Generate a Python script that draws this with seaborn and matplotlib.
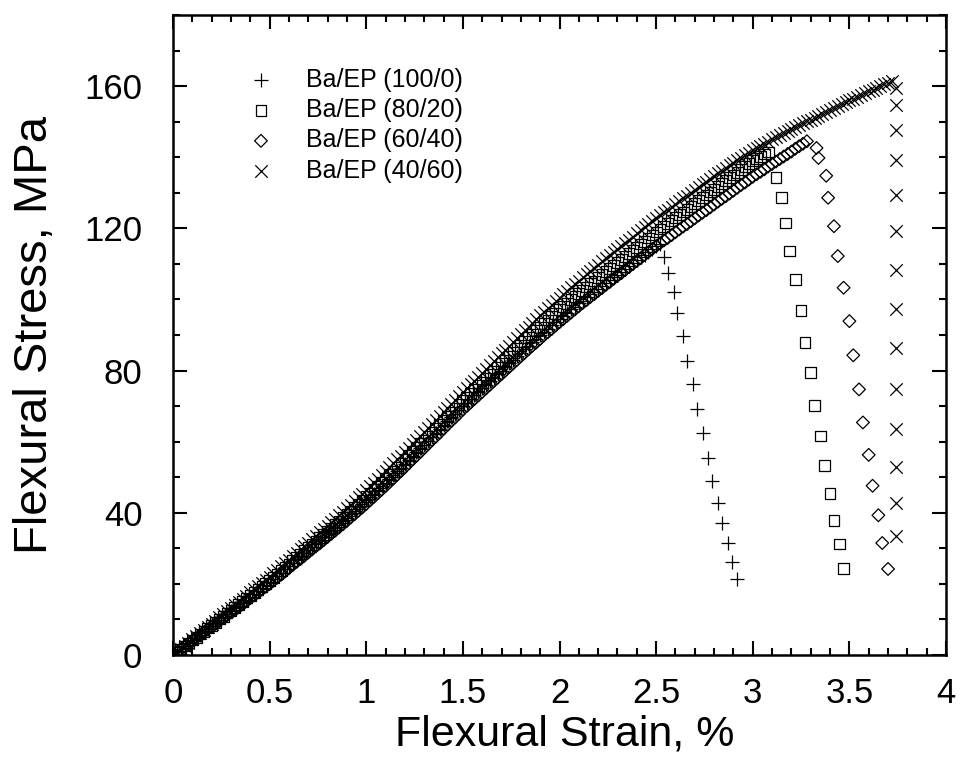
import matplotlib
matplotlib.use("Agg")
import matplotlib.pyplot as plt
from matplotlib.ticker import MultipleLocator, FuncFormatter
import seaborn as sns

# ---------------- DATA ----------------

# strain grid of the loading part, %
strain_load = [0.00, 0.02, 0.04, 0.06, 0.08, 0.10, 0.12, 0.14, 0.16, 0.18,
               0.20, 0.22, 0.24, 0.26, 0.28, 0.30, 0.32, 0.34, 0.36, 0.38,
               0.40, 0.42, 0.44, 0.46, 0.48, 0.50, 0.52, 0.54, 0.56, 0.58,
               0.60, 0.62, 0.64, 0.66, 0.68, 0.70, 0.72, 0.74, 0.76, 0.78,
               0.80, 0.82, 0.84, 0.86, 0.88, 0.90, 0.92, 0.94, 0.96, 0.98,
               1.00, 1.02, 1.04, 1.06, 1.08, 1.10, 1.12, 1.14, 1.16, 1.18,
               1.20, 1.22, 1.24, 1.26, 1.28, 1.30, 1.32, 1.34, 1.36, 1.38,
               1.40, 1.42, 1.44, 1.46, 1.48, 1.50, 1.52, 1.54, 1.56, 1.58,
               1.60, 1.62, 1.64, 1.66, 1.68, 1.70, 1.72, 1.74, 1.76, 1.78,
               1.80, 1.82, 1.84, 1.86, 1.88, 1.90, 1.92, 1.94, 1.96, 1.98,
               2.00, 2.02, 2.04, 2.06, 2.08, 2.10, 2.12, 2.14, 2.16, 2.18,
               2.20, 2.22, 2.24, 2.26, 2.28, 2.30, 2.32, 2.34, 2.36, 2.38,
               2.40, 2.42, 2.44, 2.46, 2.48, 2.50, 2.52, 2.54, 2.56, 2.58,
               2.60, 2.62, 2.64, 2.66, 2.68, 2.70, 2.72, 2.74, 2.76, 2.78,
               2.80, 2.82, 2.84, 2.86, 2.88, 2.90, 2.92, 2.94, 2.96, 2.98,
               3.00, 3.02, 3.04, 3.06, 3.08, 3.10, 3.12, 3.14, 3.16, 3.18,
               3.20, 3.22, 3.24, 3.26, 3.28, 3.30, 3.32, 3.34, 3.36, 3.38,
               3.40, 3.42, 3.44, 3.46, 3.48, 3.50, 3.52, 3.54, 3.56, 3.58,
               3.60, 3.62, 3.64, 3.66, 3.68, 3.70, 3.72]

# Ba/EP (100/0)
stress_100_load = [0.0, 0.8, 1.6, 2.5, 3.3, 4.1, 4.9, 5.7, 6.6, 7.4,
                   8.2, 9.0, 9.8, 10.7, 11.5, 12.3, 13.1, 13.9, 14.8, 15.6,
                   16.4, 17.2, 18.0, 18.9, 19.7, 20.5, 21.4, 22.3, 23.2, 24.1,
                   25.0, 25.9, 26.8, 27.7, 28.6, 29.5, 30.4, 31.3, 32.2, 33.1,
                   34.0, 34.9, 35.8, 36.7, 37.7, 38.6, 39.6, 40.5, 41.5, 42.5,
                   43.5, 44.4, 45.4, 46.5, 47.5, 48.5, 49.6, 50.6, 51.7, 52.7,
                   53.8, 54.9, 56.0, 57.0, 58.1, 59.2, 60.3, 61.4, 62.4, 63.5,
                   64.6, 65.7, 66.8, 67.8, 68.9, 70.0, 71.0, 72.0, 73.0, 74.0,
                   75.0, 76.0, 77.0, 78.0, 79.0, 80.0, 81.0, 82.0, 83.0, 84.0,
                   85.0, 86.0, 87.0, 88.0, 88.9, 89.9, 90.8, 91.8, 92.7, 93.6,
                   94.5, 95.4, 96.3, 97.2, 98.0, 98.9, 99.7, 100.6, 101.4, 102.2,
                   103.0, 103.8, 104.6, 105.4, 106.2, 107.0, 107.8, 108.6, 109.4, 110.2,
                   111.0, 111.8, 112.6, 113.4, 114.2, 115.0, 115.6]
strain_100_fail = [2.54, 2.56, 2.59, 2.61, 2.64, 2.66, 2.69, 2.71, 2.74, 2.77,
                   2.79, 2.82, 2.84, 2.87, 2.89, 2.92]
stress_100_fail = [111.8, 107.5, 102.0, 96.2, 89.7, 82.8, 76.3, 69.1, 62.3, 55.5,
                   48.9, 42.7, 37.1, 31.4, 26.2, 21.3]

# Ba/EP (80/20)
stress_80_load = [0.0, 0.8, 1.7, 2.5, 3.4, 4.2, 5.0, 5.9, 6.7, 7.6,
                  8.4, 9.2, 10.1, 10.9, 11.8, 12.6, 13.4, 14.3, 15.1, 16.0,
                  16.8, 17.6, 18.5, 19.3, 20.2, 21.0, 21.9, 22.8, 23.8, 24.7,
                  25.6, 26.5, 27.4, 28.4, 29.3, 30.2, 31.1, 32.0, 33.0, 33.9,
                  34.8, 35.7, 36.7, 37.6, 38.6, 39.5, 40.5, 41.5, 42.5, 43.5,
                  44.5, 45.5, 46.5, 47.5, 48.6, 49.6, 50.7, 51.7, 52.8, 53.9,
                  55.0, 56.1, 57.2, 58.3, 59.4, 60.5, 61.6, 62.7, 63.8, 64.9,
                  66.0, 67.1, 68.2, 69.3, 70.4, 71.5, 72.5, 73.6, 74.6, 75.7,
                  76.7, 77.7, 78.8, 79.8, 80.9, 81.9, 82.9, 84.0, 85.0, 86.1,
                  87.1, 88.1, 89.2, 90.2, 91.2, 92.2, 93.2, 94.2, 95.1, 96.1,
                  97.1, 98.0, 98.9, 99.9, 100.8, 101.7, 102.6, 103.5, 104.4, 105.2,
                  106.1, 107.0, 107.8, 108.7, 109.5, 110.4, 111.3, 112.1, 113.0, 113.8,
                  114.7, 115.6, 116.4, 117.3, 118.1, 119.0, 119.8, 120.6, 121.4, 122.2,
                  123.0, 123.8, 124.6, 125.4, 126.2, 127.0, 127.8, 128.6, 129.4, 130.2,
                  131.0, 131.8, 132.6, 133.4, 134.2, 135.0, 135.8, 136.6, 137.4, 138.2,
                  139.0, 139.6, 140.3, 140.9, 141.5]
strain_80_fail = [3.12, 3.15, 3.17, 3.19, 3.22, 3.25, 3.27, 3.30, 3.32, 3.35,
                  3.37, 3.40, 3.42, 3.45, 3.47]
stress_80_fail = [134.2, 128.6, 121.5, 113.6, 105.6, 97.0, 88.0, 79.4, 70.2, 61.6,
                  53.4, 45.4, 37.9, 31.2, 24.4]

# Ba/EP (60/40)
stress_60_load = [0.0, 0.8, 1.6, 2.4, 3.2, 4.0, 4.8, 5.6, 6.4, 7.2,
                  8.0, 8.8, 9.6, 10.4, 11.2, 12.0, 12.8, 13.6, 14.4, 15.2,
                  16.0, 16.8, 17.6, 18.4, 19.2, 20.0, 20.9, 21.8, 22.6, 23.5,
                  24.4, 25.3, 26.2, 27.0, 27.9, 28.8, 29.7, 30.6, 31.4, 32.3,
                  33.2, 34.1, 35.0, 35.9, 36.8, 37.7, 38.7, 39.6, 40.6, 41.5,
                  42.5, 43.5, 44.5, 45.5, 46.5, 47.5, 48.6, 49.6, 50.7, 51.7,
                  52.8, 53.9, 55.0, 56.0, 57.1, 58.2, 59.3, 60.4, 61.4, 62.5,
                  63.6, 64.7, 65.8, 66.8, 67.9, 69.0, 70.0, 71.0, 72.0, 73.0,
                  74.0, 75.0, 76.0, 77.0, 78.0, 79.0, 80.0, 81.0, 82.0, 83.0,
                  84.0, 85.0, 86.0, 87.0, 87.9, 88.9, 89.9, 90.8, 91.7, 92.7,
                  93.6, 94.5, 95.4, 96.3, 97.2, 98.1, 99.0, 99.8, 100.7, 101.5,
                  102.4, 103.2, 104.1, 104.9, 105.8, 106.6, 107.4, 108.3, 109.1, 110.0,
                  110.8, 111.6, 112.5, 113.3, 114.2, 115.0, 115.8, 116.6, 117.3, 118.1,
                  118.9, 119.7, 120.5, 121.2, 122.0, 122.8, 123.6, 124.4, 125.1, 125.9,
                  126.7, 127.5, 128.3, 129.0, 129.8, 130.6, 131.4, 132.2, 132.9, 133.7,
                  134.5, 135.2, 135.9, 136.6, 137.4, 138.1, 138.8, 139.5, 140.2, 140.9,
                  141.6, 142.4, 143.1, 143.8, 144.5]
strain_60_fail = [3.33, 3.34, 3.38, 3.39, 3.42, 3.44, 3.47, 3.50, 3.52, 3.55,
                  3.57, 3.60, 3.62, 3.65, 3.67, 3.70]
stress_60_fail = [142.6, 139.8, 134.8, 128.6, 120.6, 112.2, 103.3, 93.9, 84.3, 74.7,
                  65.4, 56.3, 47.6, 39.3, 31.5, 24.2]

# Ba/EP (40/60)
stress_40_load = [0.0, 0.9, 1.8, 2.6, 3.5, 4.4, 5.3, 6.2, 7.0, 7.9,
                  8.8, 9.7, 10.6, 11.4, 12.3, 13.2, 14.1, 15.0, 15.8, 16.7,
                  17.6, 18.5, 19.4, 20.2, 21.1, 22.0, 23.0, 23.9, 24.9, 25.8,
                  26.8, 27.8, 28.7, 29.7, 30.6, 31.6, 32.6, 33.5, 34.5, 35.4,
                  36.4, 37.4, 38.3, 39.3, 40.3, 41.3, 42.3, 43.3, 44.3, 45.4,
                  46.4, 47.4, 48.5, 49.6, 50.6, 51.7, 52.8, 53.9, 55.0, 56.1,
                  57.2, 58.3, 59.4, 60.6, 61.7, 62.8, 63.9, 65.0, 66.2, 67.3,
                  68.4, 69.5, 70.6, 71.8, 72.9, 74.0, 75.1, 76.2, 77.2, 78.3,
                  79.4, 80.5, 81.6, 82.6, 83.7, 84.8, 85.9, 87.0, 88.0, 89.1,
                  90.2, 91.3, 92.3, 93.4, 94.4, 95.5, 96.5, 97.5, 98.5, 99.5,
                  100.5, 101.5, 102.4, 103.4, 104.3, 105.3, 106.2, 107.1, 108.0, 108.9,
                  109.8, 110.7, 111.6, 112.4, 113.3, 114.2, 115.1, 116.0, 116.8, 117.7,
                  118.6, 119.5, 120.4, 121.2, 122.1, 123.0, 123.8, 124.6, 125.3, 126.1,
                  126.9, 127.7, 128.5, 129.2, 130.0, 130.8, 131.6, 132.4, 133.1, 133.9,
                  134.7, 135.5, 136.2, 137.0, 137.7, 138.4, 139.2, 139.9, 140.6, 141.2,
                  141.9, 142.6, 143.2, 143.8, 144.4, 145.0, 145.6, 146.2, 146.8, 147.4,
                  147.9, 148.4, 149.0, 149.5, 150.1, 150.6, 151.1, 151.7, 152.2, 152.8,
                  153.3, 153.8, 154.4, 154.9, 155.5, 156.0, 156.5, 157.0, 157.5, 158.0,
                  158.5, 159.0, 159.5, 160.0, 160.5, 161.0, 161.5]
strain_40_fail = [3.74, 3.74, 3.74, 3.74, 3.74, 3.74, 3.74, 3.74, 3.74, 3.74,
                  3.74, 3.74, 3.74, 3.74]
stress_40_fail = [159.5, 154.8, 147.8, 139.3, 129.5, 119.2, 108.4, 97.2, 86.4, 74.7,
                  63.5, 52.9, 42.7, 33.5]

labels = ["Ba/EP (100/0)", "Ba/EP (80/20)", "Ba/EP (60/40)", "Ba/EP (40/60)"]

# ---------------- PLOT ----------------

sns.set_theme(style="ticks")
plt.rcParams['font.family'] = ['Liberation Sans', 'DejaVu Sans']
plt.rcParams['text.color'] = 'black'
plt.rcParams['axes.labelcolor'] = 'black'
plt.rcParams['xtick.color'] = 'black'
plt.rcParams['ytick.color'] = 'black'

fig = plt.figure(figsize=(9.68, 7.66), dpi=100)
ax = fig.add_axes([0.1787, 0.1449, 0.7986, 0.8355])

series = [
    (stress_100_load, strain_100_fail, stress_100_fail,
     dict(marker="+", s=110, color="black", linewidth=0.9)),
    (stress_80_load, strain_80_fail, stress_80_fail,
     dict(marker="s", s=60, facecolor="none", edgecolor="black", linewidth=0.9)),
    (stress_60_load, strain_60_fail, stress_60_fail,
     dict(marker="D", s=42, facecolor="none", edgecolor="black", linewidth=0.9)),
    (stress_40_load, strain_40_fail, stress_40_fail,
     dict(marker="x", s=80, color="black", linewidth=0.9)),
]

for (load, fx, fy, kw), lab in zip(series, labels):
    xs = strain_load[:len(load)] + fx
    ys = load + fy
    sns.scatterplot(x=xs, y=ys, ax=ax, label=lab, **kw)

ax.set_xlim(0, 4)
ax.set_ylim(0, 180)

ax.xaxis.set_major_locator(MultipleLocator(0.5))
ax.xaxis.set_minor_locator(MultipleLocator(0.1))
ax.yaxis.set_major_locator(MultipleLocator(40))
ax.yaxis.set_minor_locator(MultipleLocator(10))
ax.xaxis.set_major_formatter(FuncFormatter(lambda v, p: f"{v:g}"))

ax.tick_params(which="both", direction="in", top=True, right=True,
               color="black", labelcolor="black", width=1.5)
ax.tick_params(which="major", length=10)
ax.tick_params(which="minor", length=5)
ax.tick_params(axis="y", labelsize=25, pad=22)
ax.tick_params(axis="x", labelsize=25, pad=16)

for sp in ax.spines.values():
    sp.set_linewidth(1.8)
    sp.set_color("black")

ax.set_xlabel("Flexural Strain, %", fontsize=31)
ax.set_ylabel("Flexural Stress, MPa", fontsize=34)
ax.xaxis.set_label_coords(0.507, -0.093)
ax.yaxis.set_label_coords(-0.15, 0.5)

ax.legend(loc="upper left", bbox_to_anchor=(0.075, 0.933), frameon=False,
          fontsize=18, handletextpad=1.0, handlelength=1.6,
          labelspacing=0.25, borderaxespad=0, scatterpoints=1)

fig.savefig("out.png", dpi=100)
